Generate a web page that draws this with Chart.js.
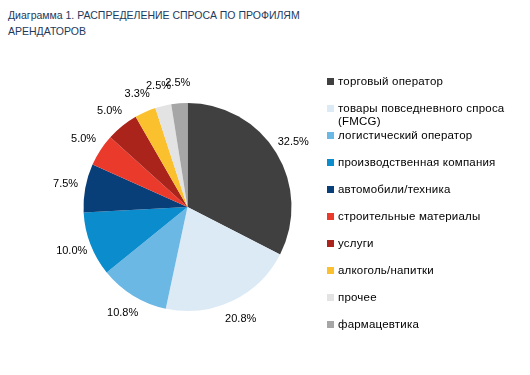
<!DOCTYPE html>
<html>
<head>
<meta charset="utf-8">
<script src="https://cdn.jsdelivr.net/npm/chart.js@4/dist/chart.umd.min.js"></script>
<style>
    body { margin: 0; background: #fff; width: 530px; height: 375px; position: relative; overflow: hidden; font-family: "Liberation Sans", Arial, sans-serif; }
    #title { position: absolute; left: 8px; top: 7px; font-size: 10.5px; line-height: 16px; color: #1d3a5c; }
    #chartBox { position: absolute; left: 0; top: 0; width: 375px; height: 375px; }
    #legend { position: absolute; left: 327px; top: 75px; font-size: 11.5px; color: #000; }
    .item { position: absolute; left: 0; width: 200px; line-height: 13px; }
    .box { position: absolute; left: 0; top: 3px; width: 7px; height: 7px; }
    .txt { position: absolute; left: 11px; top: 0; white-space: nowrap; letter-spacing: 0.2px; }
</style>
</head>
<body>
<div id="title">Диаграмма 1. РАСПРЕДЕЛЕНИЕ СПРОСА ПО ПРОФИЛЯМ<br>АРЕНДАТОРОВ</div>
<div id="chartBox"><canvas id="pie-chart" width="375" height="375"></canvas></div>
<div id="legend"></div>
<script>
const categories = [
    'торговый оператор',
    'товары повседневного спроса (FMCG)',
    'логистический оператор',
    'производственная компания',
    'автомобили/техника',
    'строительные материалы',
    'услуги',
    'алкоголь/напитки',
    'прочее',
    'фармацевтика'
];
const shares = [32.5, 20.8, 10.8, 10.0, 7.5, 5.0, 5.0, 3.3, 2.5, 2.5];
const colors = ['#404040', '#dceaf6', '#6cb8e4', '#0b8ccc', '#083f78', '#ea3a2c', '#ab241c', '#fac02e', '#e3e3e3', '#a6a6a6'];

// legend (the second label wraps onto two lines like in the original)
const legendEl = document.getElementById('legend');
for (let i = 0; i < categories.length; ++i) {
    let item = document.createElement('div');
    item.className = 'item';
    item.style.top = (i * 27) + 'px';
    let label = categories[i];
    if (label.indexOf('(FMCG)') > 0)
        label = label.replace(' (FMCG)', '<br>(FMCG)');
    item.innerHTML = '<span class="box" style="background:' + colors[i] + '"></span><span class="txt">' + label + '</span>';
    legendEl.appendChild(item);
}

// percent labels outside each slice
const outsideLabels = {
    id: 'outsideLabels',
    afterDatasetsDraw(chart) {
        const ctx = chart.ctx;
        const meta = chart.getDatasetMeta(0);
        ctx.save();
        ctx.font = '11px "Liberation Sans", Arial, sans-serif';
        ctx.fillStyle = '#000';
        ctx.textAlign = 'center';
        ctx.textBaseline = 'middle';
        meta.data.forEach((arc, i) => {
            const mid = (arc.startAngle + arc.endAngle) / 2;
            const r = arc.outerRadius + 20;
            const x = arc.x + Math.cos(mid) * r;
            const y = arc.y + Math.sin(mid) * r;
            ctx.fillText(shares[i].toFixed(1) + '%', x, y);
        });
        ctx.restore();
    }
};

new Chart('pie-chart', {
    type: 'pie',
    data: {
        labels: categories,
        datasets: [{
            data: shares,
            backgroundColor: colors,
            borderWidth: 0
        }]
    },
    options: {
        responsive: false,
        animation: false,
        layout: { padding: { top: 103, bottom: 64, left: 0, right: 0 } },
        plugins: {
            legend: { display: false },
            tooltip: { enabled: false }
        }
    },
    plugins: [outsideLabels]
});
</script>
</body>
</html>
